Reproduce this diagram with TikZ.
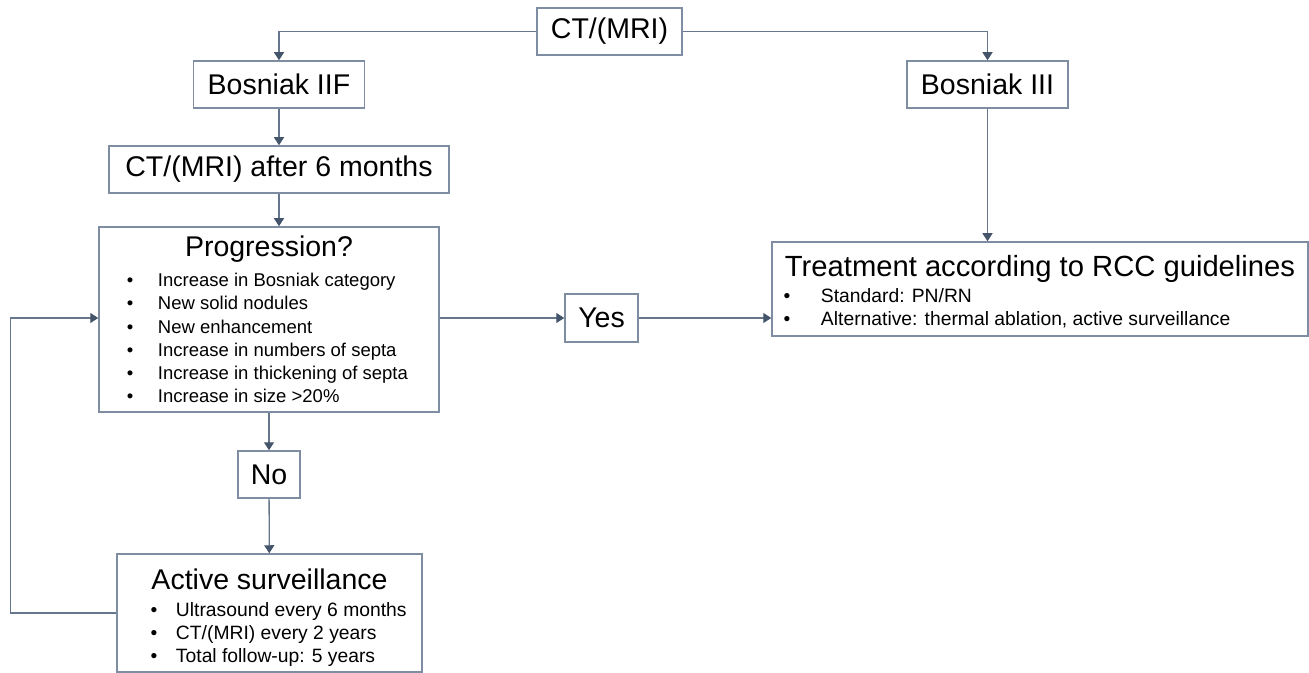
\documentclass[tikz,border=0pt]{standalone}
\usepackage{fontspec}
\setmainfont{Liberation Sans}
\usetikzlibrary{arrows.meta, positioning}

\definecolor{linegray}{HTML}{66768C}
\definecolor{boxgray}{HTML}{7F8DA3}
\definecolor{tipblue}{HTML}{44546A}

\newcommand{\bigtext}{\fontsize{14.25pt}{17pt}\selectfont}
\newcommand{\listitem}[3]{\noindent\hspace*{#1}\makebox[#2][l]{\textbullet}#3\par}

\begin{document}
\begin{tikzpicture}[
  x=0.5pt, y=-0.5pt,
  every node/.style={font=\bigtext},
  stage/.style={rectangle, draw=boxgray, line width=0.75pt, inner sep=0pt, align=center},
  listbox/.style={stage, align=flush left, inner xsep=0pt},
  arrow/.style={-{Triangle[length=4pt, width=5pt, color=tipblue]}, draw=linegray, line width=0.65pt}
]
\useasboundingbox (0,0) rectangle (1309,673);

% Imaging and Bosniak categories
\node[stage, minimum width=72.5pt, minimum height=23.5pt] (ct) at (609.5,31.5) {CT/(MRI)};
\node[stage, minimum width=85.5pt, minimum height=23.5pt] (iif) at (279,84.5) {Bosniak IIF};
\node[stage, minimum width=80.5pt, minimum height=23.5pt] (iii) at (987.5,84.5) {Bosniak III};
\node[stage, minimum width=170pt, minimum height=23.5pt] (ct6) at (279,169.5) {CT/(MRI) after 6 months};

% Decision
\node[listbox, minimum width=170pt, minimum height=92.5pt, text width=170pt] (prog) at (269,319.5) {%
  {\centering\bigtext Progression?\par}\vspace{3.4pt}
  {\fontsize{9.25pt}{11.57pt}\selectfont\spaceskip=0pt\xspaceskip=0pt
  \listitem{13.9pt}{15.6pt}{Increase in Bosniak category}
  \listitem{13.9pt}{15.6pt}{New solid nodules}
  \listitem{13.9pt}{15.6pt}{New enhancement}
  \listitem{13.9pt}{15.6pt}{Increase in numbers of septa}
  \listitem{13.9pt}{15.6pt}{Increase in thickening of septa}
  \listitem{13.9pt}{15.6pt}{Increase in size >20\%}}};
\node[stage, minimum width=36.5pt, minimum height=24pt] (yes) at (601.5,318) {Yes};
\node[stage, minimum width=31pt, minimum height=23.5pt] (no) at (269,474.5) {No};

% Outcomes
\node[listbox, minimum width=268pt, minimum height=47pt, text width=268pt] (treat) at (1040,289) {%
  {\centering\fontsize{14.6pt}{17pt}\selectfont\rule{0pt}{13.4pt}Treatment according to RCC guidelines\par}\vspace{1.35pt}
  {\fontsize{9.65pt}{11.65pt}\selectfont\spaceskip=0pt\xspaceskip=0pt
  \listitem{5.8pt}{18.7pt}{Standard: PN/RN}
  \listitem{5.8pt}{18.7pt}{Alternative: thermal ablation, active surveillance}}};
\node[listbox, minimum width=152.5pt, minimum height=59pt, text width=152.5pt] (act) at (269.5,613) {%
  {\centering\bigtext\rule{0pt}{15.4pt}Active surveillance\par}\vspace{2pt}
  {\fontsize{9.65pt}{11.5pt}\selectfont\spaceskip=0pt\xspaceskip=0pt
  \listitem{16.8pt}{12.7pt}{Ultrasound every 6 months}
  \listitem{16.8pt}{12.7pt}{CT/(MRI) every 2 years}
  \listitem{16.8pt}{12.7pt}{Total follow-up: 5 years}}};

% Connectors
\draw[arrow] (ct.west) -| (iif.north);
\draw[arrow] (ct.east) -| (iii.north);
\draw[arrow] (iif) -- (ct6);
\draw[arrow] (ct6.south) -- (ct6.south |- prog.north);
\draw[arrow] (iii.south) -- (iii.south |- treat.north);
\draw[arrow] (prog.east |- yes.west) -- (yes.west);
\draw[arrow] (yes.east) -- (yes.east -| treat.west);
\draw[arrow] (prog) -- (no);
\draw[arrow] (no) -- (act);
\draw[arrow] (act.west) -- ++(-105.5,0) |- (prog.west |- yes.west);

\end{tikzpicture}
\end{document}
